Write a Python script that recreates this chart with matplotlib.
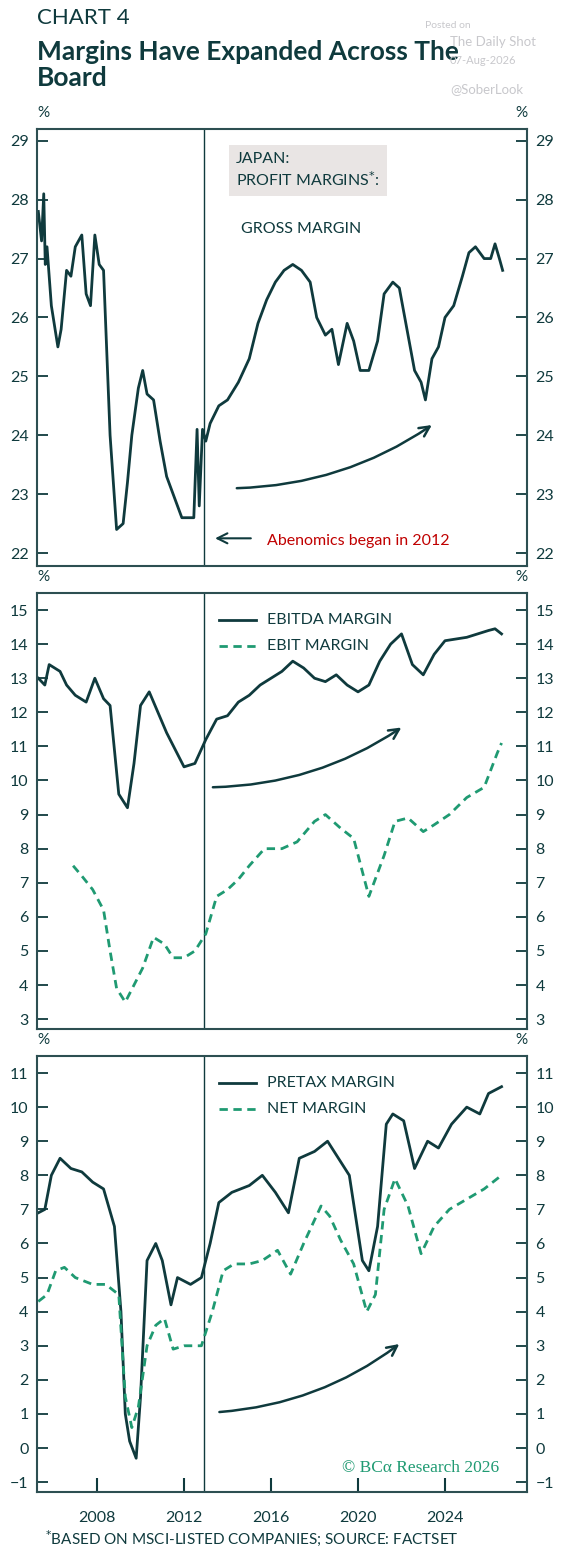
import matplotlib
matplotlib.use('Agg')
import matplotlib.pyplot as plt

plt.rcParams['font.family'] = ['Lato', 'DejaVu Sans']

DARK = '#0f3a3d'
GREEN = '#1f9a72'

# gross margin
gross_x = [2005.3, 2005.45, 2005.55, 2005.62, 2005.7, 2005.9, 2006.2, 2006.35, 2006.6, 2006.8, 2007.0, 2007.3,
           2007.5, 2007.7, 2007.9, 2008.1, 2008.3, 2008.6, 2008.9, 2009.2, 2009.4, 2009.6, 2009.9, 2010.1,
           2010.3, 2010.6, 2010.9, 2011.2, 2011.6, 2011.9, 2012.2, 2012.45, 2012.6, 2012.7, 2012.85, 2013.0,
           2013.2, 2013.6, 2014.0, 2014.5, 2015.0, 2015.4, 2015.8, 2016.2, 2016.6, 2017.0, 2017.4, 2017.8,
           2018.1, 2018.5, 2018.8, 2019.1, 2019.5, 2019.8, 2020.1, 2020.5, 2020.9, 2021.2, 2021.6, 2021.9,
           2022.2, 2022.6, 2022.9, 2023.1, 2023.4, 2023.7, 2024.0, 2024.4, 2024.8, 2025.1, 2025.4, 2025.8,
           2026.1, 2026.3, 2026.5, 2026.65]
gross_y = [27.8, 27.3, 28.1, 26.9, 27.2, 26.2, 25.5, 25.8, 26.8, 26.7, 27.2, 27.4,
           26.4, 26.2, 27.4, 26.9, 26.8, 24.0, 22.4, 22.5, 23.2, 24.0, 24.8, 25.1,
           24.7, 24.6, 23.9, 23.3, 22.9, 22.6, 22.6, 22.6, 24.1, 22.8, 24.1, 23.9,
           24.2, 24.5, 24.6, 24.9, 25.3, 25.9, 26.3, 26.6, 26.8, 26.9, 26.8, 26.6,
           26.0, 25.7, 25.8, 25.2, 25.9, 25.6, 25.1, 25.1, 25.6, 26.4, 26.6, 26.5,
           25.9, 25.1, 24.9, 24.6, 25.3, 25.5, 26.0, 26.2, 26.7, 27.1, 27.2, 27.0,
           27.0, 27.25, 27.0, 26.8]

# ebitda / ebit
ebitda_x = [2005.3, 2005.6, 2005.8, 2006.3, 2006.6, 2007.0, 2007.5, 2007.9, 2008.3, 2008.6, 2009.0, 2009.4,
            2009.7, 2010.0, 2010.4, 2010.8, 2011.2, 2011.6, 2012.0, 2012.5, 2013.0, 2013.5, 2014.0, 2014.5,
            2015.0, 2015.5, 2016.0, 2016.5, 2017.0, 2017.5, 2018.0, 2018.5, 2019.0, 2019.5, 2020.0, 2020.5,
            2021.0, 2021.5, 2022.0, 2022.5, 2023.0, 2023.5, 2024.0, 2024.5, 2025.0, 2025.5, 2026.0, 2026.3, 2026.6]
ebitda_y = [13.0, 12.8, 13.4, 13.2, 12.8, 12.5, 12.3, 13.0, 12.4, 12.2, 9.6, 9.2,
            10.5, 12.2, 12.6, 12.0, 11.4, 10.9, 10.4, 10.5, 11.2, 11.8, 11.9, 12.3,
            12.5, 12.8, 13.0, 13.2, 13.5, 13.3, 13.0, 12.9, 13.1, 12.8, 12.6, 12.8,
            13.5, 14.0, 14.3, 13.4, 13.1, 13.7, 14.1, 14.15, 14.2, 14.3, 14.4, 14.45, 14.3]
ebit_x = [2006.9, 2007.3, 2007.8, 2008.3, 2008.6, 2008.9, 2009.3, 2009.7, 2010.1, 2010.6, 2011.1, 2011.5,
          2012.0, 2012.5, 2013.0, 2013.5, 2014.0, 2014.5, 2015.0, 2015.7, 2016.5, 2017.2, 2018.0, 2018.5,
          2019.2, 2019.8, 2020.5, 2021.2, 2021.7, 2022.3, 2023.0, 2023.5, 2024.2, 2025.0, 2025.8, 2026.4, 2026.6]
ebit_y = [7.5, 7.2, 6.8, 6.2, 5.0, 3.9, 3.5, 4.0, 4.5, 5.4, 5.2, 4.8,
          4.8, 5.0, 5.5, 6.6, 6.8, 7.1, 7.5, 8.0, 8.0, 8.2, 8.8, 9.0,
          8.6, 8.3, 6.6, 7.8, 8.8, 8.9, 8.5, 8.7, 9.0, 9.5, 9.8, 10.8, 11.1]

# pretax / net
pretax_x = [2005.3, 2005.6, 2005.9, 2006.3, 2006.8, 2007.3, 2007.8, 2008.3, 2008.8, 2009.1, 2009.3, 2009.5,
            2009.8, 2010.0, 2010.3, 2010.7, 2011.0, 2011.4, 2011.7, 2012.3, 2012.8, 2013.2, 2013.6, 2014.2,
            2015.0, 2015.6, 2016.2, 2016.8, 2017.3, 2018.0, 2018.6, 2019.1, 2019.6, 2020.2, 2020.5, 2020.9,
            2021.3, 2021.6, 2022.1, 2022.6, 2023.2, 2023.7, 2024.3, 2025.0, 2025.6, 2026.0, 2026.6]
pretax_y = [6.9, 7.0, 8.0, 8.5, 8.2, 8.1, 7.8, 7.6, 6.5, 4.0, 1.0, 0.2,
            -0.3, 1.5, 5.5, 6.0, 5.5, 4.2, 5.0, 4.8, 5.0, 6.0, 7.2, 7.5,
            7.7, 8.0, 7.5, 6.9, 8.5, 8.7, 9.0, 8.5, 8.0, 5.5, 5.2, 6.5,
            9.5, 9.8, 9.6, 8.2, 9.0, 8.8, 9.5, 10.0, 9.8, 10.4, 10.6]
net_x = [2005.3, 2005.7, 2006.1, 2006.5, 2007.0, 2007.8, 2008.4, 2009.0, 2009.3, 2009.6, 2009.9, 2010.3,
         2010.7, 2011.1, 2011.5, 2012.0, 2012.8, 2013.3, 2013.8, 2014.3, 2015.0, 2015.6, 2016.3, 2016.9,
         2017.5, 2018.3, 2018.7, 2019.2, 2019.8, 2020.4, 2020.8, 2021.2, 2021.7, 2022.3, 2022.9, 2023.5,
         2024.2, 2025.0, 2025.8, 2026.6]
net_y = [4.3, 4.5, 5.2, 5.3, 5.0, 4.8, 4.8, 4.5, 1.5, 0.6, 1.2, 3.0,
         3.6, 3.8, 2.9, 3.0, 3.0, 4.0, 5.2, 5.4, 5.4, 5.5, 5.8, 5.1,
         6.0, 7.1, 6.8, 6.1, 5.4, 4.0, 4.5, 7.0, 7.9, 7.1, 5.7, 6.5,
         7.0, 7.3, 7.6, 8.0]

fig = plt.figure(figsize=(5.64, 15.55), dpi=100)
W, H = 564, 1555
L, R = 37, 527

def make_ax(top, bot):
    return fig.add_axes([L / W, 1 - bot / H, (R - L) / W, (bot - top) / H])

ax1 = make_ax(129, 566)
ax2 = make_ax(593, 1029)
ax3 = make_ax(1056, 1492)

for ax, ylim, yt, top in [(ax1, (21.78, 29.2), range(22, 30), 129),
                          (ax2, (2.71, 15.5), range(3, 16), 593),
                          (ax3, (-1.29, 11.5), range(-1, 12), 1056)]:
    ax.set_xlim(2005.24, 2027.77)
    ax.set_ylim(*ylim)
    ax.set_yticks(list(yt))
    ax.axvline(2012.92, color=DARK, lw=1)
    for s in ax.spines.values():
        s.set_color('#2d4f52')
        s.set_linewidth(1.5)
    ax.tick_params(axis='y', direction='in', length=8, width=1.3, color=DARK,
                   labelright=True, right=True, labelsize=11.5, labelcolor=DARK, pad=6)
    ax.tick_params(axis='x', length=0, labelbottom=False)
    fig.text(L / W, 1 - (top - 12) / H, '%', fontsize=11, color=DARK, ha='left')
    fig.text(R / W, 1 - (top - 12) / H, '%', fontsize=11, color=DARK, ha='right')

ax3.set_xticks([2008, 2012, 2016, 2020, 2024])
ax3.tick_params(axis='x', direction='in', length=10, width=1.5, color=DARK,
                labelbottom=True, labelsize=11.5, labelcolor=DARK, pad=14)

# panel 1
ax1.plot(gross_x, gross_y, color=DARK, lw=2)
ax1.text(2014.4, 28.5, 'JAPAN:\nPROFIT MARGINS$^{*}$:', fontsize=11.5, color=DARK, va='center',
         linespacing=1.3, bbox=dict(facecolor='#e9e5e4', edgecolor='none', pad=5))
ax1.text(2014.6, 27.5, 'GROSS MARGIN', fontsize=11.5, color=DARK, va='center')
ax1.annotate('', xy=(2023.5, 24.2), xytext=(2014.3, 23.1),
             arrowprops=dict(arrowstyle='->', color=DARK, lw=1.8, connectionstyle='arc3,rad=0.15',
                             mutation_scale=18))
ax1.annotate('', xy=(2013.3, 22.25), xytext=(2015.2, 22.25),
             arrowprops=dict(arrowstyle='->', color=DARK, lw=1.5, mutation_scale=18))
ax1.text(2015.8, 22.2, 'Abenomics began in 2012', fontsize=11.5, color='#c00000', va='center')

# panel 2
ax2.plot(ebitda_x, ebitda_y, color=DARK, lw=2)
ax2.plot(ebit_x, ebit_y, color=GREEN, lw=2, ls=(0, (3, 2)))
ax2.plot([2013.6, 2015.3], [14.72, 14.72], color=DARK, lw=2)
ax2.text(2015.8, 14.72, 'EBITDA MARGIN', fontsize=11.5, color=DARK, va='center')
ax2.plot([2013.6, 2015.3], [13.95, 13.95], color=GREEN, lw=2, ls=(0, (3, 2)))
ax2.text(2015.8, 13.95, 'EBIT MARGIN', fontsize=11.5, color=DARK, va='center')
ax2.annotate('', xy=(2022.1, 11.6), xytext=(2013.2, 9.8),
             arrowprops=dict(arrowstyle='->', color=DARK, lw=1.8, connectionstyle='arc3,rad=0.15',
                             mutation_scale=18))

# panel 3
ax3.plot(pretax_x, pretax_y, color=DARK, lw=2)
ax3.plot(net_x, net_y, color=GREEN, lw=2, ls=(0, (3, 2)))
ax3.plot([2013.6, 2015.3], [10.72, 10.72], color=DARK, lw=2)
ax3.text(2015.8, 10.72, 'PRETAX MARGIN', fontsize=11.5, color=DARK, va='center')
ax3.plot([2013.6, 2015.3], [9.95, 9.95], color=GREEN, lw=2, ls=(0, (3, 2)))
ax3.text(2015.8, 9.95, 'NET MARGIN', fontsize=11.5, color=DARK, va='center')
ax3.annotate('', xy=(2022.0, 3.1), xytext=(2013.5, 1.05),
             arrowprops=dict(arrowstyle='->', color=DARK, lw=1.8, connectionstyle='arc3,rad=0.15',
                             mutation_scale=18))
ax3.text(2026.5, -0.6, '© BCα Research 2026', fontsize=12.5, color=GREEN, ha='right', va='center',
         family=['Liberation Serif', 'DejaVu Serif'])

# titles
fig.text(37 / W, 1 - 18 / H, 'CHART 4', fontsize=16, color=DARK, va='center')
fig.text(37 / W, 1 - 65 / H, 'Margins Have Expanded Across The\nBoard', fontsize=19,
         fontweight='bold', color=DARK, va='center', linespacing=1.1)
fig.text(425 / W, 1 - 28 / H, 'Posted on', fontsize=7.5, color='#c8c8cc')
fig.text(450 / W, 1 - 46 / H, 'The Daily Shot', fontsize=9.5, color='#c8c8cc')
fig.text(450 / W, 1 - 64 / H, '07-Aug-2026', fontsize=8, color='#c8c8cc')
fig.text(450 / W, 1 - 93 / H, '@SoberLook', fontsize=9.5, color='#c8c8cc')
fig.text(45 / W, 1 - 1538 / H, '$^{*}$BASED ON MSCI-LISTED COMPANIES; SOURCE: FACTSET', fontsize=11,
         color=DARK, va='center')

fig.savefig('out.png', dpi=100)
